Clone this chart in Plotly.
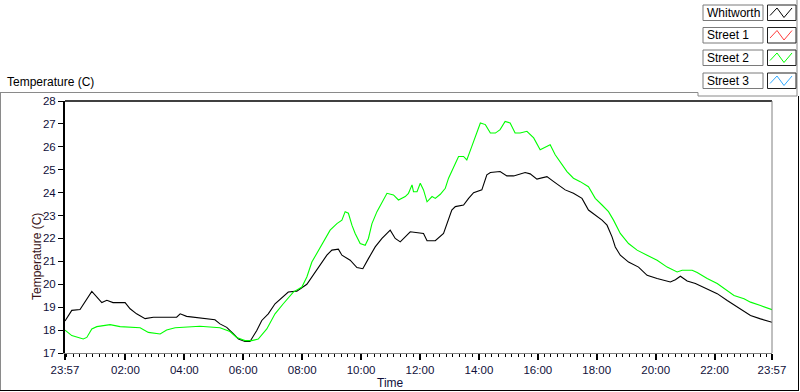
import plotly.graph_objects as go

# ---------------- data ----------------
tick_hours = [-0.05, 2, 4, 6, 8, 10, 12, 14, 16, 18, 20, 22, 23.95]
tick_labels = ["23:57", "02:00", "04:00", "06:00", "08:00", "10:00", "12:00",
               "14:00", "16:00", "18:00", "20:00", "22:00", "23:57"]
y_ticks = [17, 18, 19, 20, 21, 22, 23, 24, 25, 26, 27, 28]

series_names = ["Whitworth", "Street 1", "Street 2", "Street 3"]
series_colors = ["#000000", "#ff3c3c", "#00ff00", "#33aaff"]

whitworth_hours = [-0.05, 0.18, 0.46, 0.86, 1.20, 1.37, 1.58, 1.99, 2.16, 2.38, 2.67, 2.95,
                   3.74, 3.86, 4.08, 4.76, 5.04, 5.21, 5.44, 5.67, 5.84, 6.06, 6.23, 6.46,
                   6.63, 6.85, 7.08, 7.53, 7.82, 8.16, 8.33, 8.50, 8.67, 8.84, 9.01, 9.23,
                   9.35, 9.63, 9.86, 10.06, 10.25, 10.48, 10.71, 10.99, 11.16, 11.33, 11.67,
                   11.90, 12.12, 12.24, 12.52, 12.80, 13.08, 13.20, 13.48, 13.65, 13.82,
                   14.10, 14.27, 14.39, 14.72, 14.95, 15.18, 15.57, 15.74, 15.97, 16.20,
                   16.31, 16.54, 16.76, 16.93, 17.21, 17.50, 17.72, 17.95, 18.18, 18.35,
                   18.52, 18.63, 18.80, 19.08, 19.42, 19.71, 20.05, 20.50, 20.67, 20.84,
                   21.07, 21.35, 21.75, 22.09, 22.43, 22.77, 23.22, 23.56, 23.95]
whitworth_temp = [18.40, 18.86, 18.90, 19.69, 19.20, 19.30, 19.20, 19.20, 18.93, 18.71, 18.50, 18.56,
                  18.56, 18.71, 18.60, 18.50, 18.45, 18.27, 18.12, 17.83, 17.61, 17.50, 17.50, 17.98,
                  18.42, 18.71, 19.15, 19.66, 19.70, 20.00, 20.32, 20.68, 20.97, 21.27, 21.49, 21.53,
                  21.27, 21.05, 20.73, 20.68, 21.12, 21.63, 22.00, 22.36, 22.00, 21.85, 22.29,
                  22.25, 22.22, 21.90, 21.90, 22.22, 23.24, 23.39, 23.46, 23.75, 24.00,
                  24.12, 24.78, 24.88, 24.92, 24.73, 24.73, 24.88, 24.82, 24.59, 24.68,
                  24.70, 24.48, 24.29, 24.12, 23.97, 23.75, 23.24, 23.02, 22.80, 22.58,
                  22.07, 21.63, 21.27, 20.97, 20.75, 20.39, 20.25, 20.10, 20.20, 20.35,
                  20.14, 20.03, 19.81, 19.59, 19.29, 19.00, 18.64, 18.49, 18.34]

street2_hours = [-0.05, 0.18, 0.57, 0.69, 0.86, 1.03, 1.48, 1.82, 2.50, 2.78, 3.18, 3.40, 3.69,
                 4.31, 4.53, 5.21, 5.55, 5.78, 6.06, 6.29, 6.51, 6.80, 7.08, 7.36, 7.70, 7.99,
                 8.16, 8.33, 8.50, 8.67, 8.95, 9.18, 9.35, 9.46, 9.57, 9.69, 9.80, 9.97, 10.14,
                 10.25, 10.37, 10.54, 10.71, 10.88, 11.10, 11.27, 11.50, 11.61, 11.73, 11.78,
                 11.90, 12.01, 12.12, 12.24, 12.41, 12.52, 12.69, 12.86, 12.97, 13.14, 13.31,
                 13.48, 13.59, 13.76, 13.93, 14.05, 14.22, 14.39, 14.56, 14.72, 14.89, 15.06,
                 15.23, 15.40, 15.63, 15.86, 16.08, 16.31, 16.42, 16.59, 16.76, 16.99, 17.21,
                 17.44, 17.72, 17.95, 18.18, 18.40, 18.57, 18.80, 19.08, 19.37, 19.71, 20.05,
                 20.39, 20.73, 20.90, 21.24, 21.41, 21.75, 22.09, 22.43, 22.66, 23.00, 23.22,
                 23.56, 23.95]
street2_temp = [18.00, 17.76, 17.61, 17.68, 18.05, 18.15, 18.24, 18.15, 18.10, 17.90, 17.83, 18.00, 18.10,
                18.15, 18.17, 18.10, 17.94, 17.68, 17.54, 17.54, 17.61, 18.05, 18.71, 19.15, 19.66, 19.88,
                20.32, 20.97, 21.34, 21.70, 22.36, 22.65, 22.80, 23.17, 23.10, 22.58, 22.22, 21.78, 21.70,
                22.00, 22.65, 23.17, 23.60, 23.97, 23.90, 23.68, 23.83, 23.97, 24.34, 24.04,
                24.04, 24.41, 24.12, 23.60, 23.83, 23.75, 23.93, 24.19, 24.63, 25.14, 25.58,
                25.58, 25.43, 26.02, 26.60, 27.04, 26.97, 26.60, 26.60, 26.75, 27.11, 27.04,
                26.60, 26.60, 26.68, 26.39, 25.87, 26.02, 26.09, 25.65, 25.36, 24.92, 24.63,
                24.48, 24.26, 23.75, 23.46, 23.17, 22.80, 22.22, 21.78, 21.49, 21.27, 21.05,
                20.75, 20.54, 20.61, 20.61, 20.51, 20.25, 20.03, 19.73, 19.51, 19.37, 19.22,
                19.07, 18.89]

# ---------------- layout geometry ----------------
W, H = 800, 392
L, R, T, B = 65, 28, 101, 39
PW, PH = W - L - R, H - T - B


def px(x):
    return (x - L) / PW


def py(y):
    return (H - B - y) / PH


FONT = "Liberation Sans, Arial, sans-serif"
TICKCOL = "#10103a"

fig = go.Figure()
fig.add_trace(go.Scatter(x=whitworth_hours, y=whitworth_temp, mode="lines",
                         line=dict(color=series_colors[0], width=1.1),
                         name=series_names[0], showlegend=False))
fig.add_trace(go.Scatter(x=street2_hours, y=street2_temp, mode="lines",
                         line=dict(color=series_colors[2], width=1.1),
                         name=series_names[2], showlegend=False))

shapes = []
annotations = []

# plot area borders
shapes.append(dict(type="line", xref="paper", yref="paper", x0=0, x1=1, y0=1, y1=1,
                   line=dict(color="black", width=1.5)))
shapes.append(dict(type="line", xref="paper", yref="paper", x0=1, x1=1, y0=0, y1=1,
                   line=dict(color="#808080", width=1)))


def seg(x0, y0, x1, y1, color, width=1):
    shapes.append(dict(type="line", xref="paper", yref="paper",
                       x0=px(x0), y0=py(y0), x1=px(x1), y1=py(y1),
                       line=dict(color=color, width=width)))


# outer chart frame
seg(0, 92.5, 698, 92.5, "#8a8a8a")
seg(698, 92.5, 698, 96, "#8a8a8a")
seg(698, 96, 797, 96, "#8a8a8a")
seg(797, 0, 797, 96, "#8a8a8a")
seg(0.5, 92.5, 0.5, 391, "#8a8a8a")
seg(0, 390.5, 799, 390.5, "#000000")
seg(798.5, 96, 798.5, 391, "#000000")

# legend (label boxes and swatches)
row_tops = [5, 27.5, 50, 73]
for name, color, top in zip(series_names, series_colors, row_tops):
    bot = top + 15.5
    shapes.append(dict(type="rect", xref="paper", yref="paper",
                       x0=px(703), x1=px(763), y0=py(bot), y1=py(top),
                       fillcolor="white", line=dict(color="#7a7a7a", width=1)))
    shapes.append(dict(type="rect", xref="paper", yref="paper",
                       x0=px(767.5), x1=px(796), y0=py(bot), y1=py(top),
                       fillcolor="white", line=dict(color="#202020", width=1)))
    xs = [770, 777, 784, 792]
    ys = [bot - 5, top + 3, bot - 3, top + 3]
    path = "M " + " L ".join(f"{px(a)},{py(b)}" for a, b in zip(xs, ys))
    shapes.append(dict(type="path", xref="paper", yref="paper", path=path,
                       line=dict(color=color, width=1)))
    annotations.append(dict(text=name, xref="paper", yref="paper",
                            x=px(705), y=py((top + bot) / 2), xanchor="left", yanchor="middle",
                            showarrow=False, font=dict(family=FONT, size=12, color="black")))

# titles
annotations.append(dict(text="Temperature (C)", xref="paper", yref="paper",
                        x=px(5), y=py(82), xanchor="left", yanchor="middle", showarrow=False,
                        font=dict(family=FONT, size=12, color="black")))
annotations.append(dict(text="Temperature (C)", xref="paper", yref="paper",
                        x=px(37), y=py(257), xanchor="center", yanchor="middle", showarrow=False,
                        textangle=-90, font=dict(family=FONT, size=12, color="#3a1418")))
annotations.append(dict(text="Time", xref="paper", yref="paper",
                        x=px(390), y=py(383), xanchor="center", yanchor="middle", showarrow=False,
                        font=dict(family=FONT, size=12, color="#10103a")))

fig.update_layout(
    width=W, height=H,
    margin=dict(l=L, r=R, t=T, b=B, pad=0),
    paper_bgcolor="white", plot_bgcolor="white",
    showlegend=False,
    shapes=shapes, annotations=annotations,
    xaxis=dict(range=[tick_hours[0], tick_hours[-1]], tickmode="array",
               tickvals=tick_hours, ticktext=tick_labels,
               showgrid=False, zeroline=False,
               showline=True, linecolor="#808080", linewidth=1,
               ticks="outside", ticklen=6, tickwidth=2, tickcolor="black",
               tickfont=dict(family=FONT, size=11.5, color=TICKCOL),
               minor=dict(tickmode="linear", tick0=0, dtick=2 / 9, ticks="outside",
                          ticklen=3, tickwidth=1, tickcolor="black", showgrid=False)),
    yaxis=dict(range=[17, 28], tickmode="array", tickvals=y_ticks,
               ticktext=[str(v) for v in y_ticks],
               showgrid=False, zeroline=False,
               showline=True, linecolor="black", linewidth=2,
               ticks="outside", ticklen=5, tickwidth=1, tickcolor="black",
               tickfont=dict(family=FONT, size=11.5, color=TICKCOL)),
)

fig.write_html("out.html", config={"displayModeBar": False},
               post_script="document.body.style.margin='0';document.body.style.overflow='hidden';")
